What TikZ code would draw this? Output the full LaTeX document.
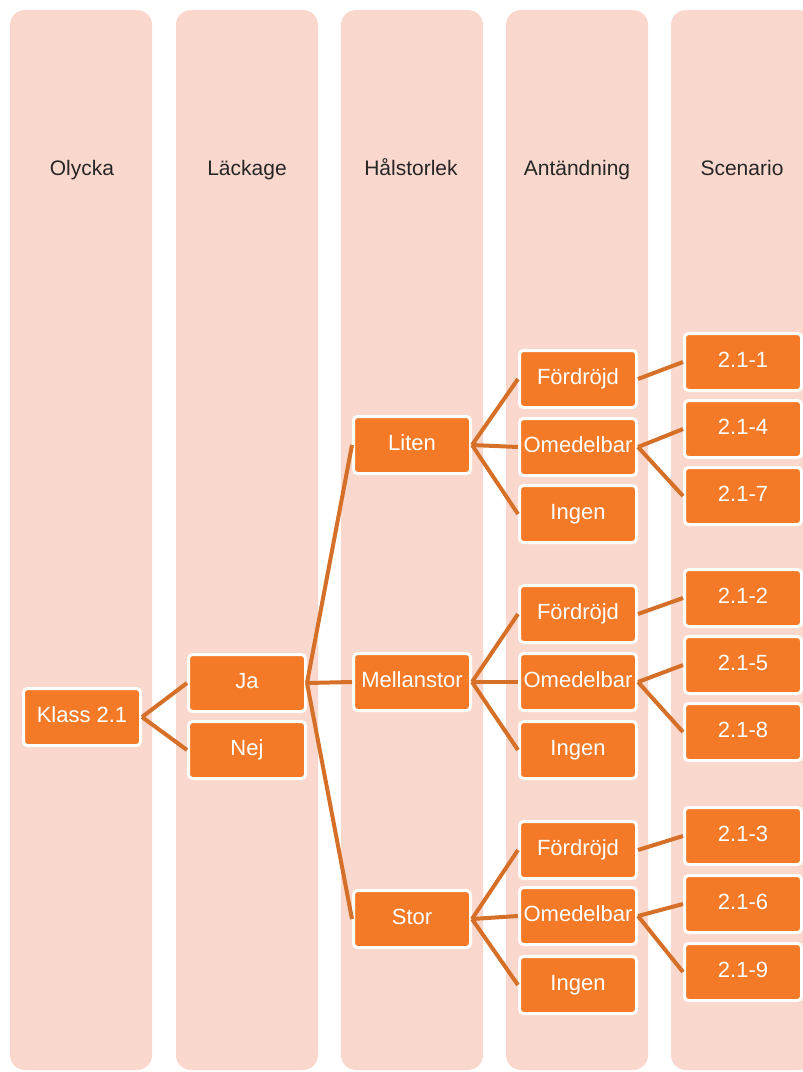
\documentclass[tikz,border=0pt]{standalone}
\usepackage{fontspec}
\setmainfont{Liberation Sans}
\usetikzlibrary{backgrounds}
\definecolor{lanefill}{RGB}{251,216,205}
\definecolor{boxfill}{RGB}{244,122,39}
\definecolor{linkcol}{RGB}{214,112,40}
\definecolor{headtext}{RGB}{38,38,38}
\tikzset{
  lane/.style={fill=lanefill, rounded corners=15pt},
  header/.style={font=\fontsize{21}{25}\selectfont, text=headtext, anchor=base},
  box/.style={draw=white, line width=3pt, fill=boxfill, rounded corners=4pt,
    minimum width=117pt, minimum height=57pt, inner sep=0pt,
    text height=15.5pt, text depth=4.5pt, text=white,
    font=\fontsize{22}{26}\selectfont},
  link/.style={draw=linkcol, line width=4pt}
}
\begin{document}
\begin{tikzpicture}[x=1pt, y=-1pt]
    \useasboundingbox (0,0) rectangle (803,1072);

    % Lanes with their headers
    \begin{scope}[on background layer]
        \foreach \lx in {10, 176, 341, 506, 671} {
            \fill[lane] (\lx,10) rectangle ++(142,1060);
        }
    \end{scope}
    \node[header] (hOlycka) at (82,175) {Olycka};
    \node[header] (hLackage) at (247,175) {Läckage};
    \node[header] (hHal) at (411,175) {Hålstorlek};
    \node[header] (hAnt) at (577,175) {Antändning};
    \node[header] (hScen) at (742,175) {Scenario};

    % Olycka and läckage
    \node[box] (klass) at (82,717) {Klass 2.1};
    \node[box] (ja) at (247,683) {Ja};
    \node[box] (nej) at (247,750) {Nej};

    % Hålstorlek
    \node[box] (liten) at (412,445) {Liten};
    \node[box] (mellan) at (412,682) {Mellanstor};
    \node[box] (stor) at (412,919) {Stor};

    % Antändning
    \node[box] (ford1) at (578,379) {Fördröjd};
    \node[box] (omed1) at (578,447) {Omedelbar};
    \node[box] (ingen1) at (578,514) {Ingen};
    \node[box] (ford2) at (578,614) {Fördröjd};
    \node[box] (omed2) at (578,682) {Omedelbar};
    \node[box] (ingen2) at (578,750) {Ingen};
    \node[box] (ford3) at (578,850) {Fördröjd};
    \node[box] (omed3) at (578,916) {Omedelbar};
    \node[box] (ingen3) at (578,985) {Ingen};

    % Scenario
    \node[box] (s1) at (743,362) {2.1-1};
    \node[box] (s4) at (743,429) {2.1-4};
    \node[box] (s7) at (743,496) {2.1-7};
    \node[box] (s2) at (743,598) {2.1-2};
    \node[box] (s5) at (743,665) {2.1-5};
    \node[box] (s8) at (743,732) {2.1-8};
    \node[box] (s3) at (743,836) {2.1-3};
    \node[box] (s6) at (743,904) {2.1-6};
    \node[box] (s9) at (743,972) {2.1-9};

    % Connectors
    \draw[link] (klass.east) -- (ja.west);
    \draw[link] (klass.east) -- (nej.west);
    \draw[link] (ja.east) -- (liten.west);
    \draw[link] (ja.east) -- (mellan.west);
    \draw[link] (ja.east) -- (stor.west);
    \draw[link] (liten.east) -- (ford1.west);
    \draw[link] (liten.east) -- (omed1.west);
    \draw[link] (liten.east) -- (ingen1.west);
    \draw[link] (mellan.east) -- (ford2.west);
    \draw[link] (mellan.east) -- (omed2.west);
    \draw[link] (mellan.east) -- (ingen2.west);
    \draw[link] (stor.east) -- (ford3.west);
    \draw[link] (stor.east) -- (omed3.west);
    \draw[link] (stor.east) -- (ingen3.west);
    \draw[link] (ford1.east) -- (s1.west);
    \draw[link] (omed1.east) -- (s4.west);
    \draw[link] (omed1.east) -- (s7.west);
    \draw[link] (ford2.east) -- (s2.west);
    \draw[link] (omed2.east) -- (s5.west);
    \draw[link] (omed2.east) -- (s8.west);
    \draw[link] (ford3.east) -- (s3.west);
    \draw[link] (omed3.east) -- (s6.west);
    \draw[link] (omed3.east) -- (s9.west);
\end{tikzpicture}
\end{document}
